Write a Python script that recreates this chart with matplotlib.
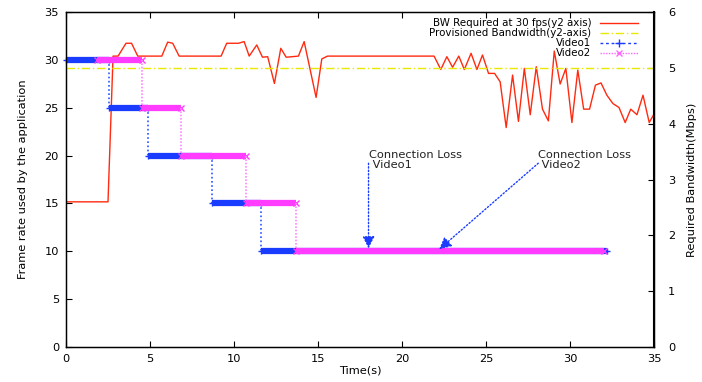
import matplotlib.pyplot as plt
from matplotlib.lines import Line2D

plt.rcParams['font.family'] = ['DejaVu Sans']
plt.rcParams['font.size'] = 8.2

# Data
# required bandwidth (Mbps, y2 axis) vs time (s)
t_bw = [0, 2.5, 2.8, 3.1, 3.57, 3.9, 4.27, 5.7, 6.05, 6.35,
        6.73, 9.23, 9.56, 10.26, 10.6, 10.9, 11.35, 11.69, 12.0, 12.4,
        12.78, 13.1, 13.83, 14.17, 14.88, 15.22, 15.56, 21.9, 22.3, 22.66,
        23.0, 23.37, 23.7, 24.1, 24.45, 24.78, 25.14, 25.5, 25.83, 26.19,
        26.57, 26.92, 27.27, 27.62, 27.98, 28.35, 28.7, 29.05, 29.4, 29.74,
        30.1, 30.45, 30.8, 31.15, 31.5, 31.83, 32.18, 32.54, 32.9, 33.27,
        33.6, 33.97, 34.33, 34.7, 35.0]
bw = [2.6, 2.6, 5.21, 5.21, 5.44, 5.44, 5.21, 5.21, 5.46, 5.44,
      5.21, 5.21, 5.44, 5.44, 5.47, 5.21, 5.41, 5.19, 5.2, 4.72,
      5.35, 5.19, 5.21, 5.47, 4.47, 5.16, 5.21, 5.21, 4.97, 5.2,
      5.01, 5.21, 4.97, 5.26, 4.97, 5.23, 4.9, 4.9, 4.75, 3.93,
      4.87, 4.04, 4.99, 4.16, 5.02, 4.26, 4.05, 5.3, 4.71, 4.99,
      4.02, 4.96, 4.26, 4.26, 4.69, 4.73, 4.51, 4.36, 4.29, 4.02,
      4.26, 4.16, 4.51, 4.02, 4.18]
provisioned = 5.0

# frame rate steps: change times and levels
v1_t = [0, 2.56, 4.88, 8.7, 11.6, 32.2]
v1_fps = [30, 25, 20, 15, 10, 10]
v2_t = [1.85, 4.52, 6.85, 10.7, 13.7, 32.0]
v2_fps = [30, 25, 20, 15, 10, 10]

red = '#ff2a10'
yellow = '#e8e800'
blue = '#1a3cff'
magenta = '#ff3cff'

fig = plt.figure(figsize=(7.02, 3.82), dpi=100)
ax = fig.add_axes([0.094, 0.0916, 0.838, 0.877])
ax2 = ax.twinx()

ax2.plot(t_bw, bw, color=red, lw=1.0)
ax2.axhline(provisioned, color=yellow, lw=1.0, linestyle=(0, (6, 2, 1, 2)))
ax2.set_ylim(0, 6)
ax2.set_ylabel('Required Bandwidth(Mbps)', labelpad=8)

ax.set_zorder(ax2.get_zorder() + 1)
ax.patch.set_visible(False)


def draw_steps(t, fps, col, vcol, vls, mk):
    for i in range(len(t) - 1):
        ax.plot([t[i], t[i + 1]], [fps[i], fps[i]], color=col, lw=4.5,
                solid_capstyle='butt', clip_on=False)
        ax.plot([t[i], t[i + 1]], [fps[i], fps[i]], color=col, lw=0,
                marker=mk, ms=5, mew=1, clip_on=False)
        if fps[i + 1] != fps[i]:
            ax.plot([t[i + 1], t[i + 1]], [fps[i], fps[i + 1]], color=vcol,
                    lw=1.2, linestyle=vls)


draw_steps(v1_t, v1_fps, blue, '#2a55ff', (0, (1, 1.5)), '+')
draw_steps(v2_t, v2_fps, magenta, '#ff88ff', (0, (1, 1)), 'x')

ax.set_xlim(0, 35)
ax.set_ylim(0, 35)
ax.set_xticks(range(0, 36, 5))
ax.set_yticks(range(0, 36, 5))
ax.set_xlabel('Time(s)', labelpad=1)
ax.set_ylabel('Frame rate used by the application', labelpad=12)
ax.tick_params(direction='in', length=4, top=True, pad=5)
ax2.tick_params(direction='in', length=4, pad=10)
for sp in ax.spines.values():
    sp.set_linewidth(1.0)
ax2.spines['right'].set_linewidth(1.5)

# annotations
arrow = dict(arrowstyle='-|>', color=blue, lw=1.0, linestyle=(0, (1, 1.5)),
             mutation_scale=18, shrinkA=0, shrinkB=0)
ax.annotate('', xy=(18.0, 10.3), xytext=(18.0, 19.2), arrowprops=arrow)
ax.annotate('', xy=(22.2, 10.2), xytext=(28.1, 19.2), arrowprops=arrow)
ax.text(18.0, 19.5, 'Connection Loss\n Video1', ha='left', va='center',
        linespacing=1.0, color='#222222')
ax.text(28.1, 19.5, 'Connection Loss\n Video2', ha='left', va='center',
        linespacing=1.0, color='#222222')

# legend, gnuplot style (text right aligned, sample on the right)
entries = [
    ('BW Required at 30 fps(y2 axis)', dict(color=red, lw=1.0)),
    ('Provisioned Bandwidth(y2-axis)', dict(color=yellow, lw=1.0, linestyle=(0, (6, 2, 1, 2)))),
    ('Video1', dict(color=blue, lw=1.0, linestyle=(0, (2, 2)), marker='+', ms=6, markevery=[1])),
    ('Video2', dict(color='#ff66ff', lw=1.0, linestyle=(0, (1, 1)), marker='x', ms=5, markevery=[1])),
]
for i, (lab, kw) in enumerate(entries):
    yy = 0.968 - 0.030 * i
    ax.text(0.893, yy, lab, transform=ax.transAxes, ha='right', va='center',
            fontsize=7.4)
    ax.add_line(Line2D([0.908, 0.9405, 0.973], [yy, yy, yy],
                       transform=ax.transAxes, **kw))

fig.savefig('out.png', dpi=100)
